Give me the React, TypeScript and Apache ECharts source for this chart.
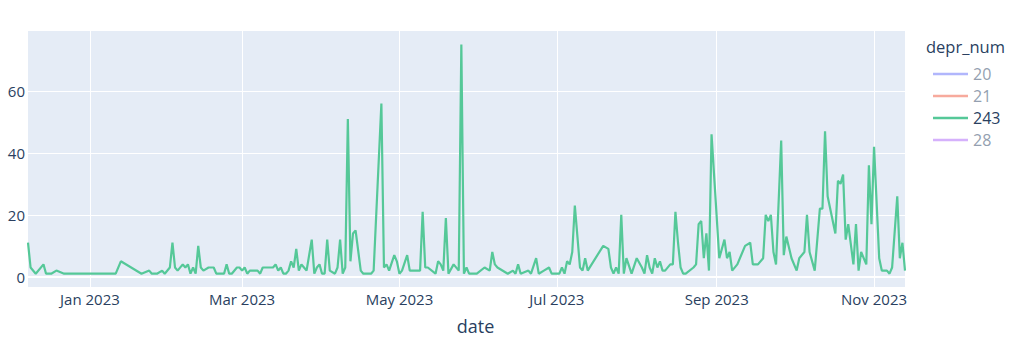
import React, { useEffect, useRef } from "react";
import * as echarts from "echarts";

// ---- data ----
const dates243: string[] = [
  "2022-12-08","2022-12-09","2022-12-11","2022-12-14","2022-12-15","2022-12-17","2022-12-19","2022-12-22",
  "2023-01-11","2023-01-13","2023-01-21","2023-01-24","2023-01-25","2023-01-27","2023-01-29","2023-01-30",
  "2023-02-01","2023-02-02","2023-02-03","2023-02-04","2023-02-06","2023-02-07","2023-02-08","2023-02-09",
  "2023-02-10","2023-02-11","2023-02-12","2023-02-13","2023-02-14","2023-02-16","2023-02-18","2023-02-19",
  "2023-02-22","2023-02-23","2023-02-24","2023-02-25","2023-02-27","2023-02-28","2023-03-01","2023-03-02",
  "2023-03-03","2023-03-04","2023-03-07","2023-03-08","2023-03-09","2023-03-13","2023-03-14","2023-03-15",
  "2023-03-16","2023-03-17","2023-03-18","2023-03-19","2023-03-20","2023-03-21","2023-03-22","2023-03-23",
  "2023-03-24","2023-03-25","2023-03-26","2023-03-28","2023-03-29","2023-03-30","2023-03-31","2023-04-01",
  "2023-04-02","2023-04-03","2023-04-04","2023-04-06","2023-04-07","2023-04-08","2023-04-09","2023-04-10",
  "2023-04-11","2023-04-12","2023-04-13","2023-04-14","2023-04-16","2023-04-17","2023-04-20","2023-04-21",
  "2023-04-24","2023-04-25","2023-04-26","2023-04-27","2023-04-29","2023-04-30","2023-05-01","2023-05-02",
  "2023-05-04","2023-05-05","2023-05-09","2023-05-10","2023-05-11","2023-05-12","2023-05-15","2023-05-16",
  "2023-05-17","2023-05-18","2023-05-19","2023-05-20","2023-05-22","2023-05-24","2023-05-25","2023-05-26",
  "2023-05-27","2023-05-28","2023-05-31","2023-06-03","2023-06-05","2023-06-06","2023-06-07","2023-06-08",
  "2023-06-12","2023-06-14","2023-06-15","2023-06-16","2023-06-17","2023-06-20","2023-06-21","2023-06-23",
  "2023-06-24","2023-06-26","2023-06-28","2023-06-29","2023-07-02","2023-07-03","2023-07-04","2023-07-05",
  "2023-07-06","2023-07-07","2023-07-08","2023-07-10","2023-07-11","2023-07-12","2023-07-13","2023-07-19",
  "2023-07-21","2023-07-22","2023-07-23","2023-07-24","2023-07-25","2023-07-26","2023-07-27","2023-07-28",
  "2023-07-30","2023-08-01","2023-08-03","2023-08-04","2023-08-05","2023-08-06","2023-08-07","2023-08-08",
  "2023-08-09","2023-08-10","2023-08-11","2023-08-12","2023-08-14","2023-08-15","2023-08-16","2023-08-17",
  "2023-08-18","2023-08-19","2023-08-20","2023-08-23","2023-08-24","2023-08-25","2023-08-26","2023-08-27",
  "2023-08-28","2023-08-29","2023-08-30","2023-09-02","2023-09-04","2023-09-05","2023-09-06","2023-09-07",
  "2023-09-09","2023-09-12","2023-09-14","2023-09-15","2023-09-17","2023-09-19","2023-09-20","2023-09-21",
  "2023-09-22","2023-09-23","2023-09-24","2023-09-26","2023-09-27","2023-09-28","2023-09-30","2023-10-02",
  "2023-10-03","2023-10-05","2023-10-06","2023-10-07","2023-10-09","2023-10-11","2023-10-12","2023-10-13",
  "2023-10-14","2023-10-17","2023-10-18","2023-10-19","2023-10-20","2023-10-21","2023-10-22","2023-10-24",
  "2023-10-25","2023-10-26","2023-10-27","2023-10-29","2023-10-30","2023-10-31","2023-11-01","2023-11-03",
  "2023-11-04","2023-11-06","2023-11-07","2023-11-08","2023-11-10","2023-11-11","2023-11-12","2023-11-13",
];

const values243: number[] = [
  11,3,1,4,1,1,2,1,
  1,5,1,2,1,1,2,1,
  3,11,3,2,4,3,4,1,
  3,1,10,3,2,3,3,1,
  1,4,1,1,3,3,2,3,
  1,2,2,1,3,3,4,2,
  3,1,1,2,5,3,9,2,
  4,3,2,12,1,3,4,1,
  1,12,2,1,3,12,1,3,
  51,5,14,15,2,1,1,2,
  56,3,4,2,7,5,1,2,
  7,2,2,21,3,3,1,5,
  4,2,19,1,4,2,75,1,
  3,1,1,3,2,8,4,3,
  1,2,1,4,1,2,1,6,
  1,2,3,1,1,3,1,5,
  4,8,23,3,2,6,2,10,
  9,3,1,3,1,20,1,6,
  1,6,3,1,7,3,1,6,
  3,5,2,2,4,4,21,11,
  3,1,1,3,4,17,18,6,
  14,2,46,6,12,6,8,2,
  4,10,11,4,4,6,20,18,
  20,8,4,44,7,13,6,2,
  6,8,20,8,2,22,22,47,
  26,14,31,30,33,12,17,4,
  17,2,8,4,36,17,42,6,
  2,2,1,3,26,6,11,2,
];

const legendNames: string[] = ["20", "21", "243", "28"];
const monthTicks: string[] = ["2023-01-01", "2023-03-01", "2023-05-01", "2023-07-01", "2023-09-01", "2023-11-01"];
const yTicks: number[] = [0, 20, 40, 60];
const xStart = "2022-12-08";
const xEnd = "2023-11-13";
const MONTHS = ["Jan", "Feb", "Mar", "Apr", "May", "Jun", "Jul", "Aug", "Sep", "Oct", "Nov", "Dec"];

function ts(s: string): number {
  const [y, m, d] = s.split("-").map(Number);
  return Date.UTC(y, m - 1, d);
}

const FONT = "'Open Sans', Verdana, Arial, sans-serif";
const TXT = "#2a3f5f";
const FADED_TXT = "#949fb0";

export default function App() {
  const ref = useRef<HTMLDivElement>(null);

  useEffect(() => {
    if (!ref.current) return;
    const chart = echarts.init(ref.current, undefined, { renderer: "svg" });
    const tickTs = monthTicks.map(ts);
    const data = dates243.map((d, i) => [ts(d), values243[i]]);

    const fadedColors: Record<string, string> = { "20": "#b1b6fc", "21": "#f7aa9d", "28": "#d5b1fc" };
    const mainColor = "#55c898";

    const series: any[] = legendNames.map((n) =>
      n === "243"
        ? {
            name: n,
            type: "line",
            data,
            showSymbol: false,
            symbol: "none",
            z: 3,
            color: mainColor,
            lineStyle: { width: 2.2, color: mainColor },
          }
        : { name: n, type: "line", data: [], showSymbol: false, color: fadedColors[n] }
    );
    series.push({
      type: "line",
      data: [],
      z: 1,
      silent: true,
      markLine: {
        silent: true,
        symbol: "none",
        label: { show: false },
        lineStyle: { color: "#ffffff", width: 2, type: "solid" },
        data: [{ yAxis: 0 }],
      },
    });

    chart.setOption({
      animation: false,
      backgroundColor: "#ffffff",
      textStyle: { fontFamily: FONT },
      title: {
        text: "depr_num",
        left: 921,
        top: 33,
        textStyle: { fontSize: 16.5, fontWeight: "normal", color: TXT, fontFamily: FONT },
      },
      legend: {
        orient: "vertical",
        left: 928,
        top: 61,
        icon: "rect",
        itemWidth: 35,
        itemHeight: 2.5,
        itemGap: 6,
        selectedMode: false,
        textStyle: { fontSize: 16, color: TXT, fontFamily: FONT },
        data: legendNames.map((n) => ({
          name: n,
          textStyle: { color: n === "243" ? TXT : FADED_TXT },
        })),
      },
      grid: {
        left: 28,
        right: 119,
        top: 31,
        bottom: 77,
        show: true,
        backgroundColor: "#e5ecf6",
        borderWidth: 0,
      },
      xAxis: {
        type: "value",
        min: ts(xStart),
        max: ts(xEnd),
        axisLine: { show: false },
        axisTick: { show: false, customValues: tickTs },
        axisLabel: {
          customValues: tickTs,
          color: TXT,
          fontSize: 15,
          fontFamily: FONT,
          margin: 4,
          formatter: (v: number) => {
            const d = new Date(v);
            return MONTHS[d.getUTCMonth()] + " " + d.getUTCFullYear();
          },
        },
        splitLine: { show: true, lineStyle: { color: "#ffffff", width: 1 } },
        name: "date",
        nameLocation: "middle",
        nameGap: 30,
        nameTextStyle: { fontSize: 18, color: TXT, fontFamily: FONT, padding: [0, 0, 0, 18] },
      },
      yAxis: {
        type: "value",
        min: -3.3,
        max: 79.4,
        axisLine: { show: false },
        axisTick: { show: false, customValues: yTicks },
        axisLabel: { customValues: yTicks, color: TXT, fontSize: 15, fontFamily: FONT, margin: 3 },
        splitLine: { show: true, lineStyle: { color: "#ffffff", width: 1 } },
      },
      series,
    });

    return () => chart.dispose();
  }, []);

  return (
    <div
      ref={ref}
      style={{ position: "fixed", left: 0, top: 0, width: 1024, height: 364 }}
    />
  );
}
